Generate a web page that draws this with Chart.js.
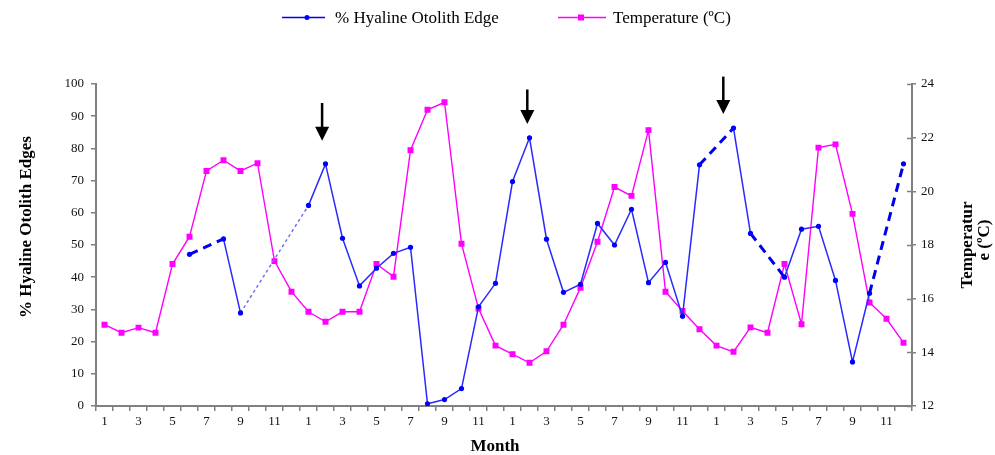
<!DOCTYPE html>
<html>
<head>
<meta charset="utf-8">
<script src="https://cdn.jsdelivr.net/npm/chart.js@4.4.1/dist/chart.umd.min.js"></script>
<style>
    html, body { margin: 0; padding: 0; background: #fff; }
    #wrap { width: 995px; height: 455px; position: relative; }
</style>
</head>
<body>
<div id="wrap"><canvas id="c"></canvas></div>
<script>
// --- data ---
var monthLabels = ["1", "2", "3", "4", "5", "6", "7", "8", "9", "10", "11", "12"];
var months = [].concat(monthLabels, monthLabels, monthLabels, monthLabels);

// % hyaline edge (null = no sample that month)
var hyaline = [
    null, null, null, null, null, 47.1, null, 51.9, 28.9, null, null, null,
    62.3, 75.2, 52.1, 37.3, 42.8, 47.4, 49.3, 0.7, 2.0, 5.4, 30.8, 38.1,
    69.7, 83.3, 51.8, 35.3, 37.8, 56.7, 50.0, 61.1, 38.3, 44.6, 27.9, 74.9,
    null, 86.3, 53.6, null, 40.0, 54.9, 55.8, 39.0, 13.7, 35.0, null, 75.2
];

// temperature (ºC)
var temperature = [
    15.03, 14.73, 14.92, 14.73, 17.29, 18.31, 20.76, 21.16, 20.76, 21.05, 17.40, 16.26,
    15.51, 15.14, 15.51, 15.51, 17.29, 16.82, 21.53, 23.04, 23.32, 18.05, 15.63, 14.25,
    13.93, 13.61, 14.04, 15.03, 16.41, 18.12, 20.16, 19.83, 22.28, 16.26, 15.54, 14.86,
    14.25, 14.02, 14.93, 14.73, 17.29, 15.05, 21.63, 21.75, 19.16, 15.86, 15.25, 14.36
];

// arrows: [month index, top (% axis), tip (% axis)]
var arrows = [[12.8, 94.1, 82.4], [24.87, 98.3, 87.6], [36.4, 102.3, 90.7]];

var SERIF = "'Liberation Serif', 'Times New Roman', serif";
var AXIS = "#808080";

// how many months a segment spans (gaps in the series are joined)
function gapStyle(ctx, value, normal) {
    var j = ctx.p1DataIndex - 1;
    while (j >= 0 && hyaline[j] === null) j--;
    var gap = ctx.p1DataIndex - j;
    if (gap > 2) return value.dotted;
    if (gap === 2) return value.dashed;
    return normal;
}

var extras = {
    id: "extras",
    afterDraw: function(chart) {
        var ctx = chart.ctx, x = chart.scales.x, y = chart.scales.y, y1 = chart.scales.y1;
        ctx.save();

        // inner half of the right axis ticks
        ctx.strokeStyle = AXIS; ctx.lineWidth = 1.5;
        y1.ticks.forEach(function(t, i) {
            var py = Math.round(y1.getPixelForTick(i)) + 0.5;
            ctx.beginPath(); ctx.moveTo(y1.left - 5, py); ctx.lineTo(y1.left, py); ctx.stroke();
        });

        // arrows
        ctx.fillStyle = "#000"; ctx.strokeStyle = "#000";
        arrows.forEach(function(a) {
            var px = x.getPixelForValue(a[0]), top = y.getPixelForValue(a[1]), tip = y.getPixelForValue(a[2]);
            ctx.lineWidth = 2.5;
            ctx.beginPath(); ctx.moveTo(px, top); ctx.lineTo(px, tip - 12); ctx.stroke();
            ctx.beginPath(); ctx.moveTo(px - 7, tip - 14); ctx.lineTo(px + 7, tip - 14); ctx.lineTo(px, tip); ctx.closePath(); ctx.fill();
        });

        // legend
        ctx.lineWidth = 1.5;
        ctx.strokeStyle = "#0000ff"; ctx.beginPath(); ctx.moveTo(282, 17.5); ctx.lineTo(325, 17.5); ctx.stroke();
        ctx.fillStyle = "#0000ff"; ctx.beginPath(); ctx.arc(307, 17.5, 2.5, 0, Math.PI * 2); ctx.fill();
        ctx.strokeStyle = "#ff00ff"; ctx.beginPath(); ctx.moveTo(558, 17.5); ctx.lineTo(606, 17.5); ctx.stroke();
        ctx.fillStyle = "#ff00ff"; ctx.fillRect(578, 14.5, 6, 6);
        ctx.fillStyle = "#000"; ctx.font = "17px " + SERIF; ctx.textAlign = "left"; ctx.textBaseline = "alphabetic";
        ctx.fillText("% Hyaline Otolith Edge", 335, 23);
        ctx.fillText("Temperature (ºC)", 613, 23);

        // axis titles
        ctx.font = "bold 17px " + SERIF; ctx.textAlign = "center";
        ctx.fillText("Month", 495, 451);
        ctx.textBaseline = "middle";
        ctx.save(); ctx.translate(27, 227); ctx.rotate(-Math.PI / 2); ctx.fillText("% Hyaline Otolith Edges", 0, 0); ctx.restore();
        ctx.save(); ctx.translate(968, 245); ctx.rotate(-Math.PI / 2); ctx.fillText("Temperatur", 0, 0); ctx.restore();
        ctx.save(); ctx.translate(985, 240); ctx.rotate(-Math.PI / 2); ctx.fillText("e (ºC)", 0, 0); ctx.restore();

        ctx.restore();
    }
};

var tickFont = { family: SERIF, size: 13 };

new Chart(document.getElementById("c"), {
    type: "line",
    data: {
        labels: months,
        datasets: [
            {
                label: "% Hyaline Otolith Edge",
                data: hyaline,
                yAxisID: "y",
                spanGaps: true,
                borderColor: "#2a2aff",
                borderWidth: 1.5,
                pointStyle: "circle",
                pointRadius: 2.6,
                pointBackgroundColor: "#0000ff",
                pointBorderWidth: 0,
                tension: 0,
                segment: {
                    borderColor: function(ctx) { return gapStyle(ctx, { dotted: "#6f6fff", dashed: "#0000ee" }, undefined); },
                    borderWidth: function(ctx) { return gapStyle(ctx, { dotted: 1.5, dashed: 3 }, undefined); },
                    borderDash: function(ctx) { return gapStyle(ctx, { dotted: [3, 3], dashed: [9, 6] }, undefined); },
                },
            },
            {
                label: "Temperature (ºC)",
                data: temperature,
                yAxisID: "y1",
                borderColor: "#ff00ff",
                borderWidth: 1.4,
                pointStyle: "rect",
                pointRadius: 4.2,
                pointBackgroundColor: "#ff00ff",
                pointBorderWidth: 0,
                tension: 0,
            },
        ],
    },
    options: {
        animation: false,
        responsive: true,
        maintainAspectRatio: false,
        layout: { padding: { top: 84, left: 0, right: 0, bottom: 0 } },
        plugins: { legend: { display: false }, tooltip: { enabled: false } },
        scales: {
            x: {
                type: "category",
                offset: true,
                afterFit: function(s) { s.height = 49; },
                grid: { display: true, drawOnChartArea: false, drawTicks: true, tickLength: 5, color: AXIS, lineWidth: 1.5, offset: true },
                border: { display: true, color: AXIS, width: 2 },
                ticks: {
                    autoSkip: false, maxRotation: 0, minRotation: 0, padding: 3, color: "#111", font: tickFont,
                    callback: function(v, i) { var m = months[i]; return (parseInt(m, 10) % 2 === 1) ? m : ""; },
                },
            },
            y: {
                position: "left",
                min: 0, max: 100,
                afterFit: function(s) { s.width = 96; },
                grid: { display: true, drawOnChartArea: false, drawTicks: true, tickLength: 5, color: AXIS, lineWidth: 1.5 },
                border: { display: true, color: AXIS, width: 2 },
                ticks: { stepSize: 10, padding: 7, color: "#111", font: tickFont },
            },
            y1: {
                position: "right",
                min: 12, max: 24,
                afterFit: function(s) { s.width = 83; },
                grid: { display: true, drawOnChartArea: false, drawTicks: true, tickLength: 4, color: AXIS, lineWidth: 1.5 },
                border: { display: true, color: AXIS, width: 2 },
                ticks: { stepSize: 2, padding: 5, color: "#111", font: tickFont },
            },
        },
    },
    plugins: [extras],
});
</script>
</body>
</html>
